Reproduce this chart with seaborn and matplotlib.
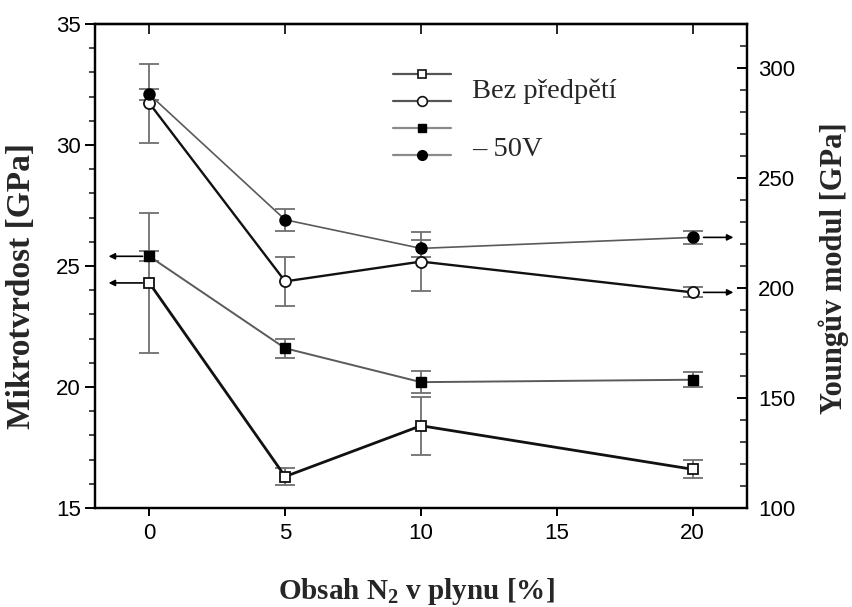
import matplotlib
matplotlib.use("Agg")
import matplotlib.pyplot as plt
import seaborn as sns
import pandas as pd
from matplotlib.lines import Line2D
from matplotlib.ticker import MultipleLocator

# ---- data ----
n2 = [0, 5, 10, 20]
x_ticks = [0, 5, 10, 15, 20]
h_bez = [24.3, 16.3, 18.4, 16.6]
h_bez_err = [2.9, 0.35, 1.2, 0.37]
h_50 = [25.4, 21.6, 20.2, 20.3]
h_50_err = [0.2, 0.4, 0.45, 0.3]
e_bez = [284, 203, 212, 198]
e_bez_err = [18, 11, 13.5, 2.3]
e_50 = [288, 231, 218, 223]
e_50_err = [2.6, 5, 4, 3]
left_ticks = [15, 20, 25, 30, 35]
right_ticks = [100, 150, 200, 250, 300]
label_bez = "Bez předpětí"
label_50 = "– 50V"

sns.set_style("ticks")
plt.rcParams['font.family'] = ['Liberation Sans', 'DejaVu Sans']
plt.rcParams['mathtext.fontset'] = 'custom'
plt.rcParams['mathtext.rm'] = 'Liberation Serif:bold'
plt.rcParams['mathtext.bf'] = 'Liberation Serif:bold'

fig = plt.figure(figsize=(8.52, 6.07), dpi=100)
ax = fig.add_axes([0.1115, 0.1631, 0.7653, 0.7974])
ax2 = ax.twinx()

dark = '#111111'
gray = '#5a5a5a'
ecol = '#707070'

df = pd.DataFrame({'n2': n2, 'h_bez': h_bez, 'h_50': h_50, 'e_bez': e_bez, 'e_50': e_50})

# hardness (left axis)
ax.errorbar(n2, h_bez, yerr=h_bez_err, fmt='none', ecolor=ecol, elinewidth=1.3, capsize=7, capthick=1.3, zorder=2)
ax.errorbar(n2, h_50, yerr=h_50_err, fmt='none', ecolor=ecol, elinewidth=1.3, capsize=7, capthick=1.3, zorder=2)
sns.lineplot(data=df, x='n2', y='h_bez', ax=ax, color=dark, lw=2.0, marker='s', markersize=7,
             markerfacecolor='white', markeredgecolor=dark, markeredgewidth=1.3, zorder=3)
sns.lineplot(data=df, x='n2', y='h_50', ax=ax, color=gray, lw=1.4, marker='s', markersize=7,
             markerfacecolor='black', markeredgecolor='black', markeredgewidth=1.0, zorder=3)

# Young's modulus (right axis)
ax2.errorbar(n2, e_bez, yerr=e_bez_err, fmt='none', ecolor=ecol, elinewidth=1.3, capsize=7, capthick=1.3, zorder=2)
ax2.errorbar(n2, e_50, yerr=e_50_err, fmt='none', ecolor=ecol, elinewidth=1.3, capsize=7, capthick=1.3, zorder=2)
sns.lineplot(data=df, x='n2', y='e_bez', ax=ax2, color=dark, lw=1.7, marker='o', markersize=8,
             markerfacecolor='white', markeredgecolor=dark, markeredgewidth=1.3, zorder=3)
sns.lineplot(data=df, x='n2', y='e_50', ax=ax2, color=gray, lw=1.2, marker='o', markersize=8,
             markerfacecolor='black', markeredgecolor='black', markeredgewidth=1.0, zorder=3)

# limits & ticks
ax.set_xlim(-2, 22)
ax.set_xticks(x_ticks)
ax.set_ylim(15, 35)
ax.set_yticks(left_ticks)
ax.yaxis.set_minor_locator(MultipleLocator(1))
ax2.set_ylim(100, 320)
ax2.set_yticks(right_ticks)
ax2.yaxis.set_minor_locator(MultipleLocator(10))

ax.tick_params(axis='x', which='major', direction='out', length=6, width=1.4, labelsize=16, pad=5, colors='black')
ax.tick_params(axis='y', which='major', direction='out', length=7, width=1.4, labelsize=16, pad=3, colors='black')
ax.tick_params(axis='y', which='minor', direction='out', length=4, width=1.2)
ax2.tick_params(axis='y', which='major', direction='in', length=7, width=1.4, labelsize=16, pad=8, colors='black')
ax2.tick_params(axis='y', which='minor', direction='in', length=5, width=1.2)

top = ax.secondary_xaxis('top')
top.set_xticks(x_ticks)
top.tick_params(direction='in', length=7, width=1.4, labeltop=False)

for a in (ax, ax2):
    for s in a.spines.values():
        s.set_linewidth(1.6)
        s.set_color('black')
top.spines['top'].set_linewidth(1.6)

serif = ['Liberation Serif', 'DejaVu Serif']
ax.set_ylabel("Mikrotvrdost [GPa]", fontfamily=serif, fontweight='bold', fontsize=24)
ax.yaxis.set_label_coords(-0.089, 0.459)
ax2.set_ylabel("Youngův modul [GPa]", fontfamily=serif, fontweight='bold', fontsize=22)
ax2.yaxis.set_label_coords(1.110, 0.496)
ax.set_xlabel("Obsah N$_{2}$ v plynu [%]", fontfamily=serif, fontweight='bold', fontsize=21)
ax.xaxis.set_label_coords(0.493, -0.140)

# arrows indicating axes
arr = dict(arrowstyle='-|>', color='black', lw=1.2, mutation_scale=9, shrinkA=0, shrinkB=0)
for yv in (h_50[0], h_bez[0]):
    ax.annotate('', xy=(n2[0] - 1.5, yv), xytext=(n2[0] - 0.25, yv), arrowprops=arr, zorder=4)
for yv in (e_50[-1], e_bez[-1]):
    ax2.annotate('', xy=(n2[-1] + 1.5, yv), xytext=(n2[-1] + 0.4, yv), arrowprops=arr, zorder=4)

# legend
handles = [
    Line2D([], [], color='#555555', lw=1.6, marker='s', ms=6, mfc='white', mec=dark, mew=1.2),
    Line2D([], [], color='#555555', lw=1.6, marker='o', ms=7, mfc='white', mec=dark, mew=1.2),
    Line2D([], [], color='#8a8a8a', lw=1.6, marker='s', ms=6, mfc='black', mec='black'),
    Line2D([], [], color='#8a8a8a', lw=1.6, marker='o', ms=7, mfc='black', mec='black'),
]
leg = ax.legend(handles, [' '] * 4, loc='upper left', bbox_to_anchor=(393 / 852, 1 - 67 / 607),
                bbox_transform=fig.transFigure, frameon=False, fontsize=14, handlelength=3.0,
                handletextpad=0.0, labelspacing=0.48, borderpad=0, borderaxespad=0)
fig.text(472 / 852, 1 - 98 / 607, label_bez, fontfamily=serif, fontsize=20.5, va='baseline', ha='left')
fig.text(472 / 852, 1 - 156 / 607, label_50, fontfamily=serif, fontsize=20.5, va='baseline', ha='left')

fig.savefig("out.png", dpi=100)
